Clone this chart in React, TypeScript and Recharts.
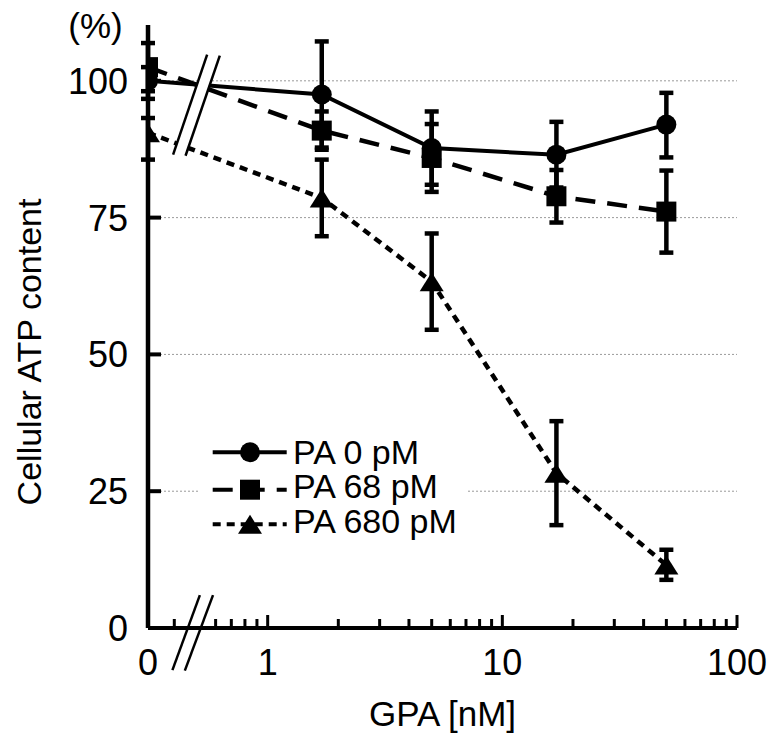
import { LineChart, Line, XAxis, YAxis, CartesianGrid, ErrorBar, ReferenceLine, Legend, Label } from 'recharts'

const FONT = '"Liberation Sans", Arial, Helvetica, sans-serif'

// GPA concentration (nM); 0 sits left of the axis break
const GPA_NM = [0, 1.7, 5, 17, 50]
const PA0 = [100, 97.5, 87.7, 86.5, 92]
const PA0_ERR: [number, number][] = [[3.3, 2.5], [9.7, 9.7], [6.7, 6.7], [6, 6], [6, 5.8]]
const PA68 = [102.5, 90.9, 85.9, 78.9, 76.1]
const PA68_ERR: [number, number][] = [[4.4, 4.4], [3.5, 3.5], [6.2, 6.2], [4.8, 4.8], [7.5, 7.5]]
const PA680 = [90.5, 78.6, 63.3, 28.3, 11.5]
const PA680_ERR: [number, number][] = [[4.9, 2.7], [7, 7], [8.8, 8.8], [9.5, 9.5], [2.7, 2.8]]

const Y_TICKS = [0, 25, 50, 75, 100]
const GRID_VALUES = [25, 50, 75, 100]
const X_MAJOR = [1, 10, 100]
const X_MINOR = [0.4, 0.6, 0.7, 0.8, 0.9, 2, 3, 4, 5, 6, 7, 8, 9, 20, 30, 40, 50, 60, 70, 80, 90]

// where "0" lands on the log axis (left of the break)
const ZERO_POS = -0.51
const xPos = (v: number) => (v === 0 ? ZERO_POS : Math.log10(v))

const rows = GPA_NM.map((g, i) => ({
  x: xPos(g),
  pa0: PA0[i],
  pa0Err: PA0_ERR[i],
  pa68: PA68[i],
  pa68Err: PA68_ERR[i],
  pa680: PA680[i],
  pa680Err: PA680_ERR[i],
}))

const X_TICKS = [ZERO_POS, ...X_MINOR.map(xPos), ...X_MAJOR.map(xPos)]

const SERIES: Record<string, { dash?: string; marker: 'circle' | 'square' | 'triangle' }> = {
  pa0: { marker: 'circle' },
  pa68: { dash: '20 12', marker: 'square' },
  pa680: { dash: '8 6', marker: 'triangle' },
}

function Marker({ type, cx, cy }: { type: string; cx: number; cy: number }) {
  if (type === 'circle') return <circle cx={cx} cy={cy} r={10} fill="#000" />
  if (type === 'square') return <rect x={cx - 10} y={cy - 10} width={20} height={20} fill="#000" />
  return <polygon points={`${cx},${cy - 9.5} ${cx + 12},${cy + 9.5} ${cx - 12},${cy + 9.5}`} fill="#000" />
}

const dotFor = (type: string) => (p: any) => (
  <g key={`${type}-${p.index}`}>
    <Marker type={type} cx={p.cx} cy={p.cy} />
  </g>
)

function XTick(props: any) {
  const { x, y, payload } = props
  const v = payload.value as number
  if (Math.abs(v - ZERO_POS) < 1e-6) {
    return (
      <text x={x} y={y + 47} textAnchor="middle" fontSize={36} fontFamily={FONT} fill="#000">0</text>
    )
  }
  const major = X_MAJOR.find((m) => Math.abs(xPos(m) - v) < 1e-6)
  return (
    <g>
      <line x1={x} x2={x} y1={y} y2={y - (major ? 13 : 9)} stroke="#000" strokeWidth={3} />
      {major !== undefined && (
        <text x={x} y={y + 47} textAnchor="middle" fontSize={36} fontFamily={FONT} fill="#000">{major}</text>
      )}
    </g>
  )
}

function YTick(props: any) {
  const { x, y, payload } = props
  return (
    <g>
      <line x1={x} x2={x + 13} y1={y} y2={y} stroke="#000" strokeWidth={4} />
      <text x={x - 20} y={y + 13} textAnchor="end" fontSize={36} fontFamily={FONT} fill="#000">{payload.value}</text>
    </g>
  )
}

function renderLegend(props: any) {
  const items = props.payload ?? []
  return (
    <svg width={268} height={112} style={{ display: 'block', background: '#fff' }}>
      {items.map((item: any, i: number) => {
        const s = SERIES[item.dataKey]
        const cy = 19.7 + i * 34.5
        const my = cy + (i === 0 ? 0.5 : 3.5)
        return (
          <g key={item.dataKey}>
            <line x1={12.7} x2={86.7} y1={my} y2={my} stroke="#000" strokeWidth={4} strokeDasharray={s.dash} />
            <Marker type={s.marker} cx={50} cy={my} />
            <text x={93} y={cy + 12} fontSize={34} fontFamily={FONT} fill="#000">{item.value}</text>
          </g>
        )
      })}
    </svg>
  )
}

export default function App() {
  return (
    <div style={{ position: 'absolute', left: 0, top: 0, width: 767, height: 733, background: '#fff' }}>
      <LineChart width={767} height={733} data={rows} margin={{ top: 25, right: 30, bottom: 0, left: 0 }}>
        <CartesianGrid vertical={false} horizontalValues={GRID_VALUES} stroke="#9a9a9a" strokeDasharray="2 2" strokeWidth={1} />
        <XAxis
          type="number"
          dataKey="x"
          domain={[ZERO_POS, 2]}
          ticks={X_TICKS}
          interval={0}
          allowDataOverflow
          height={105}
          tickSize={0}
          tickMargin={0}
          tickLine={false}
          axisLine={{ stroke: '#000', strokeWidth: 4 }}
          tick={<XTick />}
        >
          <Label
            content={(p: any) => (
              <text x={p.viewBox.x + p.viewBox.width / 2} y={p.viewBox.y + 98} textAnchor="middle" fontSize={35} fontFamily={FONT} fill="#000">
                GPA [nM]
              </text>
            )}
          />
        </XAxis>
        <YAxis
          type="number"
          domain={[0, 110.2]}
          ticks={Y_TICKS}
          interval={0}
          allowDataOverflow
          width={148}
          tickSize={0}
          tickMargin={0}
          tickLine={false}
          axisLine={{ stroke: '#000', strokeWidth: 4.5 }}
          tick={<YTick />}
        >
          <Label
            content={() => (
              <g>
                <text x={41} y={352} transform="rotate(-90, 41, 352)" textAnchor="middle" fontSize={34} fontFamily={FONT} fill="#000">
                  Cellular ATP content
                </text>
                <text x={95.5} y={38} textAnchor="middle" fontSize={35} fontFamily={FONT} fill="#000">(%)</text>
              </g>
            )}
          />
        </YAxis>
        <Legend
          layout="vertical"
          align="center"
          verticalAlign="middle"
          wrapperStyle={{ left: 200, top: 432, width: 268, height: 112 }}
          content={renderLegend}
        />
        <Line dataKey="pa680" name="PA 680 pM" stroke="#000" strokeWidth={4.5} strokeDasharray={SERIES.pa680.dash} dot={dotFor('triangle')} activeDot={false} isAnimationActive={false}>
          <ErrorBar dataKey="pa680Err" direction="y" width={7} stroke="#000" strokeWidth={4.5} />
        </Line>
        <Line dataKey="pa68" name="PA 68 pM" stroke="#000" strokeWidth={4.5} strokeDasharray={SERIES.pa68.dash} dot={dotFor('square')} activeDot={false} isAnimationActive={false}>
          <ErrorBar dataKey="pa68Err" direction="y" width={7} stroke="#000" strokeWidth={4.5} />
        </Line>
        <Line dataKey="pa0" name="PA 0 pM" stroke="#000" strokeWidth={4} dot={dotFor('circle')} activeDot={false} isAnimationActive={false}>
          <ErrorBar dataKey="pa0Err" direction="y" width={7} stroke="#000" strokeWidth={4.5} />
        </Line>
        {/* axis break on the data lines */}
        <ReferenceLine segment={[{ x: -0.377, y: 86.4 }, { x: -0.231, y: 104.7 }]} stroke="#fff" strokeWidth={11} ifOverflow="visible" />
        <ReferenceLine segment={[{ x: -0.403, y: 86.5 }, { x: -0.258, y: 104.8 }]} stroke="#000" strokeWidth={2.5} ifOverflow="visible" />
        <ReferenceLine segment={[{ x: -0.35, y: 86.3 }, { x: -0.204, y: 104.6 }]} stroke="#000" strokeWidth={2.5} ifOverflow="visible" />
        {/* axis break on the x axis */}
        <ReferenceLine segment={[{ x: -0.379, y: -7.7 }, { x: -0.261, y: 6.0 }]} stroke="#fff" strokeWidth={11} ifOverflow="visible" />
        <ReferenceLine segment={[{ x: -0.406, y: -7.7 }, { x: -0.289, y: 6.0 }]} stroke="#000" strokeWidth={2.5} ifOverflow="visible" />
        <ReferenceLine segment={[{ x: -0.353, y: -7.8 }, { x: -0.233, y: 6.0 }]} stroke="#000" strokeWidth={2.5} ifOverflow="visible" />
      </LineChart>
    </div>
  )
}
